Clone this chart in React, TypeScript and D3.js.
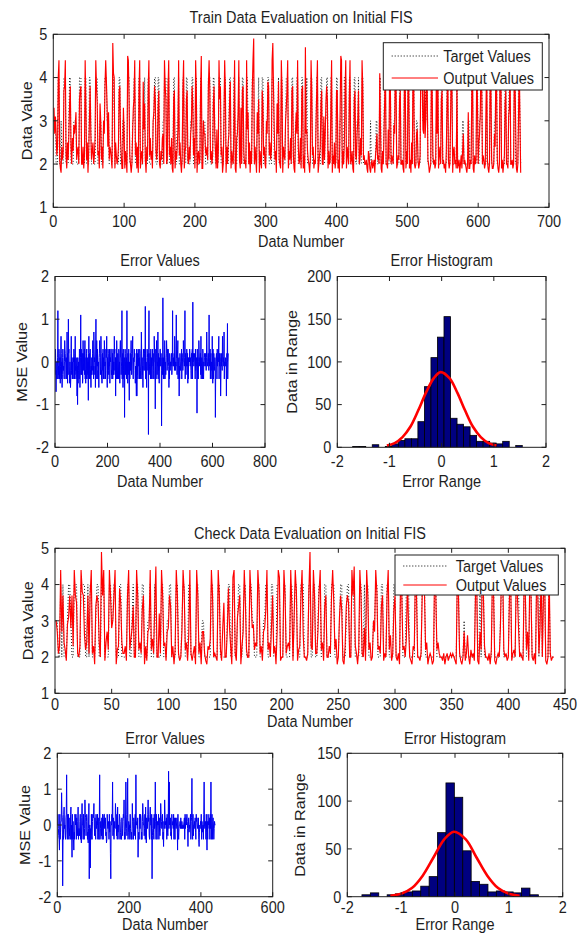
import React from 'react'
import * as d3 from 'd3'

// samples are typed one character each, in groups of ten
// targets: the digit itself; errors: value = -2 + 0.1 * position of the char in CODE
const CODE = '0123456789abcdefghijklmnopqrstuvwxyz'
const digits = (s: string) => s.replace(/\s+/g, '').split('').map(Number)
const decode = (s: string, base: number) =>
  s.replace(/\s+/g, '').split('').map(c => Math.round((base + 0.1 * CODE.indexOf(c)) * 10) / 10)

const trainTarget = digits(`
3332224422 3222444222 2344222233 3322224442 2222442222 4432222224 4422233222 3344433322 2224432222 2244222333
2222444222 2334422222 4422223342 2224422222 3344222442 2222334442 2442222224 4222334222 2244222442 2223344222
4422222442 2333222244 4222244322 2224442222 3442222344 2222442223 3422224422 2244322222 4442222334 2222442222
3344222244 4222233422 2442222344 4222224422 2334422222 4422233422 2224422222 3442222442 2223344222 2442222224
4222334222 4442222442 2222442233 4222244222 2222222322 2222233222 4422223442 2222442222 3344222244 2222344222
4422222442 2233222244 4334434422 2224422222 3342222442 2222244222 3442222224 2222222332 2222233222 4422222442
2334422222 2422224422 2233442222 4422222442 2234422222 4422224432`)

const trainError = decode(`
hnjdigkgjl wgjhnmgilf jnqmgkehln lijhgkpnmk kgligrjfmh umnjhfkieg mqihlgkjgl knmglhqijg hjlcjalfik jgnmeilvhn
lhjmfgpikm knhpgiflgm nglihkbmqj mgjngiejhl kimphjgrnk lhjenugmpk jngigkelmp nlhjqmgifk minglhgpnj kgjnlmqiel
gnmihkjnfl lknnhigjmg njhkiqmnhl clhgpmigmk jgnmgkfnpl lhjkwglmen igjl7knmhk jlgwikfmhk ngbkgjminp mhjlnqigkl
knlmifjhgc ncjhmgnljk lgnmgijkrn glhjeknmil mnixggkjel nmlim3nwhj kmjgnigljk lngmkigqnk k9jngmplhk jrgmikfljn
nljmi5glhk znglgikpgk jhlmpnijnk nkjeigmjik kjlmhilwkj lkjmiqnjik jvlmhknpgk klcjgmkijk lngmlkijpn kkjlwgmlhk
jnljmfkglk lknmjlkigm lmngyklmjk mlkgnikjlk 8ngligkpnk jlkmhqgjlk kgnmhgkjlm lkjmkilrnk jklmkivljk nglmikjgqk
fnigmkijlk 7gjlmkgnjl lknqgmjlmk cgljmkiqnk kljrgkkjlk jkclmktgkm`, -2)

const checkTarget = digits(`
3322424222 3443224442 2244442242 4422234422 4442222443 3442224422 2224422342 2442224422 2334222432 2224422233
4422224422 2344222442 2222442223 3222222442 2224422222 2344224422 3442234422 2443322244 2223344222 4422244422
2442222442 3442224442 2224422442 2344222442 2224442222 3442223442 2443222244 2242442222 3344222442 2244222244
2222442224 4422222442 2224442222 2222442222 2222222222 2222442222 3222222222 4422424422 2222244222 2234422222
4422224442 2224422244 2222442442 4422242222`)

const checkError = decode(`
knjhgdngil ltnm3hgnpj khgmnyignj ngjhmgnpgk bnglgdignm kngmihlpgj jhlngifmqk kgnigjrnmh lnmgifjq5k k8jgnhglnm
nqkhmignjl kngmiglygj ljhmgnjgmn njlmhifgnk jklgnilc5k knlwhmigjl jqnmhngpik kgnmlighgm jhlnmrgigk wnjhmxgilk
kgnjhgigql jgmlihngyk kljmbhignj jnmgiglqnk khjngpifmk jnrlmhgnpk kgn5hjmign jkwlgniglk kngmihjqnl jkngieljrn
kljmgnihkz jwklmhignk kljngmigmk jkmldnigjk kljmkjlkjk jklmgnjlmk nljekmikjl nglmxignhk kljmignlmk jkmgeikjlk
ngljikgnwk jklgnidlgn kljmgnjwgk nglmkgjlkk`, -2)

// the error plot shows target - output, so the output curve is read back from the two
const trainOutput = trainTarget.map((t, i) => Math.round((t - trainError[i]) * 10) / 10)
const checkOutput = checkTarget.map((t, i) => Math.round((t - checkError[i]) * 10) / 10)

// histograms: first bin edge, bin width, counts
const trainBinStart = -1.705
const trainBinWidth = 0.125
const trainCounts = [1, 1, 0, 3, 0, 1, 4, 8, 10, 10, 30, 71, 105, 129, 153, 34, 27, 24, 14, 7, 7, 5, 4, 7, 0, 2]
const trainFitX = [-1.05, -0.9, -0.75, -0.6, -0.45, -0.3, -0.15, -0.02, 0.15, 0.3, 0.45, 0.6, 0.75, 0.9, 1.05]
const trainFitY = [2, 5, 12, 24, 43, 64, 81, 88, 81, 64, 43, 24, 12, 5, 2]

const checkBinStart = -1.728
const checkBinWidth = 0.156
const checkCounts = [2, 4, 0, 2, 3, 5, 6, 11, 21, 67, 119, 104, 48, 16, 13, 5, 6, 5, 4, 9, 2]
const checkFitX = [-1.2, -1.0, -0.8, -0.6, -0.4, -0.2, -0.02, 0.2, 0.4, 0.6, 0.8, 1.0, 1.2]
const checkFitY = [1, 3, 9, 22, 41, 60, 68, 60, 41, 22, 9, 3, 1]

// ticks
const trainXTicks = [0, 100, 200, 300, 400, 500, 600, 700]
const checkXTicks = [0, 50, 100, 150, 200, 250, 300, 350, 400, 450]
const valueTicks = [1, 2, 3, 4, 5]
const trainErrXTicks = [0, 200, 400, 600, 800]
const checkErrXTicks = [0, 200, 400, 600]
const errTicks = [-2, -1, 0, 1, 2]
const rangeTicks = [-2, -1, 0, 1, 2]
const trainCountTicks = [0, 50, 100, 150, 200]
const checkCountTicks = [0, 50, 100, 150]

const legendNames = ['Target Values', 'Output Values']

const FONT = "Arial, 'Liberation Sans', Helvetica, sans-serif"
const STRETCH = 1.12
const INK = '#1e1e1e'

function Label(props: any) {
  const { x, y, anchor = 'middle', rotate = 0, children } = props
  return (
    <text
      transform={`translate(${x},${y}) scale(1,${STRETCH}) rotate(${rotate})`}
      textAnchor={anchor}
      fontFamily={FONT}
      fontSize={14.5}
      fill={INK}
    >
      {children}
    </text>
  )
}

function Axes(props: any) {
  const { id, box, xDomain, xTicks, yDomain, yTicks, title, xLabel, yLabel, yLabelX, titleDy, tickDy, xLabelDy, children } = props
  const x = d3.scaleLinear().domain(xDomain).range([box.l, box.r])
  const y = d3.scaleLinear().domain(yDomain).range([box.b, box.t])
  const tl = 4.5
  const cx = (box.l + box.r) / 2
  const cy = (box.t + box.b) / 2
  return (
    <g>
      <defs>
        <clipPath id={id}>
          <rect x={box.l} y={box.t} width={box.r - box.l} height={box.b - box.t} />
        </clipPath>
      </defs>
      <g clipPath={`url(#${id})`}>{children(x, y)}</g>
      <g stroke={INK} strokeWidth={1}>
        <rect x={box.l} y={box.t} width={box.r - box.l} height={box.b - box.t} fill="none" />
        {xTicks.map((v: number) => (
          <g key={'x' + v}>
            <line x1={x(v)} x2={x(v)} y1={box.b} y2={box.b - tl} />
            <line x1={x(v)} x2={x(v)} y1={box.t} y2={box.t + tl} />
          </g>
        ))}
        {yTicks.map((v: number) => (
          <g key={'y' + v}>
            <line x1={box.l} x2={box.l + tl} y1={y(v)} y2={y(v)} />
            <line x1={box.r} x2={box.r - tl} y1={y(v)} y2={y(v)} />
          </g>
        ))}
      </g>
      {xTicks.map((v: number) => (
        <Label key={'xl' + v} x={x(v)} y={box.b + tickDy}>{String(v)}</Label>
      ))}
      {yTicks.map((v: number) => (
        <Label key={'yl' + v} x={box.l - 6} y={y(v) + 5.8} anchor="end">{String(v)}</Label>
      ))}
      <Label x={cx} y={box.t - titleDy}>{title}</Label>
      <Label x={cx} y={box.b + xLabelDy}>{xLabel}</Label>
      <Label x={yLabelX} y={cy} rotate={-90}>{yLabel}</Label>
    </g>
  )
}

function Legend(props: any) {
  const { x0, x1, y0, y1, rows, s0, s1, tx } = props
  return (
    <g>
      <rect x={x0} y={y0} width={x1 - x0} height={y1 - y0} fill="#fff" stroke={INK} strokeWidth={1} />
      <line x1={s0} x2={s1} y1={rows[0]} y2={rows[0]} stroke="#000" strokeWidth={1} strokeDasharray="1,2" />
      <line x1={s0} x2={s1} y1={rows[1]} y2={rows[1]} stroke="#f00" strokeWidth={1} />
      {legendNames.map((n, i) => (
        <Label key={n} x={tx} y={rows[i] + 5.8} anchor="start">{n}</Label>
      ))}
    </g>
  )
}

function series(x: any, y: any, data: number[]) {
  return d3.line<number>().x((_, i) => x(i + 1)).y(d => y(d))(data) || ''
}

function Evaluation(props: any) {
  const { target, output } = props
  return (x: any, y: any) => (
    <g fill="none">
      <path d={series(x, y, target)} stroke="#000" strokeWidth={0.9} strokeDasharray="1,2" />
      <path d={series(x, y, output)} stroke="#f00" strokeWidth={1.15} />
    </g>
  )
}

function Errors(props: any) {
  const { errors } = props
  return (x: any, y: any) => (
    <path d={series(x, y, errors)} fill="none" stroke="#0000f0" strokeWidth={1} />
  )
}

function Histogram(props: any) {
  const { start, width, counts, fitX, fitY } = props
  return (x: any, y: any) => {
    const fit = d3.line<number>().x((_, i) => x(fitX[i])).y(d => y(d)).curve(d3.curveCatmullRom)(fitY) || ''
    return (
      <g>
        {counts.map((c: number, i: number) => c > 0 && (
          <rect
            key={i}
            x={x(start + i * width)}
            y={y(c)}
            width={x(start + (i + 1) * width) - x(start + i * width)}
            height={y(0) - y(c)}
            fill="#000080"
            stroke="#000"
            strokeWidth={0.8}
          />
        ))}
        <path d={fit} fill="none" stroke="#f00" strokeWidth={2.6} />
      </g>
    )
  }
}

export default function App() {
  return (
    <svg width={586} height={934} style={{ position: 'absolute', left: 0, top: 0, background: '#fff' }}>
      <Axes
        id="trainEval" box={{ l: 53.3, r: 549, t: 34.3, b: 207.3 }}
        xDomain={[0, 700]} xTicks={trainXTicks} yDomain={[1, 5]} yTicks={valueTicks}
        title="Train Data Evaluation on Initial FIS" xLabel="Data Number" yLabel="Data Value"
        yLabelX={31.7} titleDy={11.3} tickDy={19.4} xLabelDy={40}
      >
        {Evaluation({ target: trainTarget, output: trainOutput })}
      </Axes>
      <Legend x0={383.3} x1={542.3} y0={42.7} y1={90} rows={[56, 78]} s0={391.7} s1={438} tx={443.3} />

      <Axes
        id="trainErr" box={{ l: 55, r: 265, t: 276.5, b: 447.3 }}
        xDomain={[0, 800]} xTicks={trainErrXTicks} yDomain={[-2, 2]} yTicks={errTicks}
        title="Error Values" xLabel="Data Number" yLabel="MSE Value"
        yLabelX={27.3} titleDy={11} tickDy={20} xLabelDy={40}
      >
        {Errors({ errors: trainError })}
      </Axes>

      <Axes
        id="trainHist" box={{ l: 337.3, r: 546, t: 276.5, b: 447.3 }}
        xDomain={[-2, 2]} xTicks={rangeTicks} yDomain={[0, 200]} yTicks={trainCountTicks}
        title="Error Histogram" xLabel="Error Range" yLabel="Data in Range"
        yLabelX={297.3} titleDy={11} tickDy={20} xLabelDy={40}
      >
        {Histogram({ start: trainBinStart, width: trainBinWidth, counts: trainCounts, fitX: trainFitX, fitY: trainFitY })}
      </Axes>

      <Axes
        id="checkEval" box={{ l: 55, r: 565, t: 548.3, b: 693.3 }}
        xDomain={[0, 450]} xTicks={checkXTicks} yDomain={[1, 5]} yTicks={valueTicks}
        title="Check Data Evaluation on Initial FIS" xLabel="Data Number" yLabel="Data Value"
        yLabelX={33.3} titleDy={9} tickDy={16.7} xLabelDy={34}
      >
        {Evaluation({ target: checkTarget, output: checkOutput })}
      </Axes>
      <Legend x0={395} x1={558.3} y0={555} y1={595} rows={[566, 585]} s0={403.3} s1={446.7} tx={455.7} />

      <Axes
        id="checkErr" box={{ l: 57.3, r: 272.7, t: 753.3, b: 896.7 }}
        xDomain={[0, 600]} xTicks={checkErrXTicks} yDomain={[-2, 2]} yTicks={errTicks}
        title="Error Values" xLabel="Data Number" yLabel="MSE Value"
        yLabelX={30} titleDy={9.3} tickDy={16} xLabelDy={33}
      >
        {Errors({ errors: checkError })}
      </Axes>

      <Axes
        id="checkHist" box={{ l: 347.3, r: 562.7, t: 753.3, b: 896.7 }}
        xDomain={[-2, 2]} xTicks={rangeTicks} yDomain={[0, 150]} yTicks={checkCountTicks}
        title="Error Histogram" xLabel="Error Range" yLabel="Data in Range"
        yLabelX={305} titleDy={9.3} tickDy={16} xLabelDy={33}
      >
        {Histogram({ start: checkBinStart, width: checkBinWidth, counts: checkCounts, fitX: checkFitX, fitY: checkFitY })}
      </Axes>
    </svg>
  )
}
